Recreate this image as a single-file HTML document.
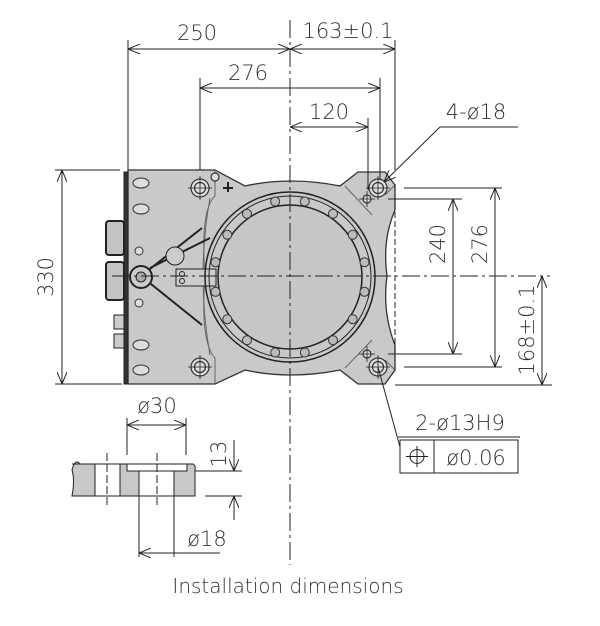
<!DOCTYPE html>
<html><head><meta charset="utf-8"><style>
html,body{margin:0;padding:0;background:#fff;}
svg{display:block;}
text{font-family:"DejaVu Sans","Liberation Sans",sans-serif;fill:#333;font-weight:300;}
</style></head><body>
<svg width="600" height="626" viewBox="0 0 600 626" xmlns="http://www.w3.org/2000/svg">
<defs>
<marker id="a" viewBox="0 0 12 10" refX="12" refY="5" markerWidth="12" markerHeight="10" orient="auto-start-reverse" markerUnits="userSpaceOnUse">
<path d="M0,0 L12,5 L0,10" fill="none" stroke="#222" stroke-width="1"/></marker>
</defs>
<g stroke="#222" stroke-width="1" fill="none">
<path d="M128,170 L215,170 L245,186 Q290,176 340,186 L358,172 L385,172 L395,185 L395,210 Q382,240 387,276 Q382,312 395,345 L395,370 L385,384 L358,384 L340,370 Q290,380 245,370 L215,384 L128,384 Z" fill="#c9c9c9" stroke="#333" stroke-width="1.3"/>
<path d="M215,170 L215,196 Q200,210 205,276 Q200,342 215,358 L215,384" stroke="#666"/>
<path d="M210,198 Q196,276 210,355" stroke="#666"/>
<path d="M385,195 L395,185 M385,360 L395,370" stroke="#666"/>
<path d="M345,186 L372,215 M345,368 L372,340" stroke="#666"/>
<rect x="124" y="172" width="4" height="212" fill="#333"/>
<rect x="106" y="221" width="18" height="34" rx="3" fill="#c4c4c4" stroke="#222" stroke-width="2"/>
<rect x="106" y="262" width="18" height="38" rx="3" fill="#c4c4c4" stroke="#222" stroke-width="2"/>
<rect x="114" y="315" width="10" height="14" fill="#ccc"/>
<rect x="114" y="334" width="10" height="14" fill="#ccc"/>
<g fill="#ddd" stroke="#333">
<ellipse cx="141" cy="183" rx="8" ry="5"/><ellipse cx="141" cy="209" rx="8" ry="5"/>
<circle cx="139" cy="251" r="4"/><circle cx="139" cy="303" r="4"/>
<ellipse cx="141" cy="345" rx="8" ry="5"/><ellipse cx="141" cy="370" rx="8" ry="5"/>
</g>
<path d="M141,276 L202,228 M141,276 L202,325 M150,268 L210,238" stroke="#222" stroke-width="2"/>
<circle cx="141" cy="277" r="11" fill="#ccc" stroke="#222" stroke-width="2"/>
<circle cx="141" cy="277" r="5" fill="#aaa"/>
<circle cx="175" cy="256" r="9" fill="#ccc"/>
<rect x="176" y="269" width="40" height="17" fill="#ccc"/>
<circle cx="182" cy="274" r="2.5"/><circle cx="182" cy="281" r="2.5"/>
<circle cx="290" cy="277" r="85" stroke-width="1.5"/>
<circle cx="290" cy="277" r="81"/>
<circle cx="290" cy="277" r="72" fill="#c6c6c6" stroke-width="1.5"/>
<g fill="#bbb" stroke="#333">
<circle cx="304.8" cy="201.5" r="4.5"/><circle cx="333.0" cy="213.8" r="4.5"/><circle cx="352.7" cy="234.8" r="4.5"/><circle cx="364.5" cy="262.2" r="4.5"/>
<circle cx="364.5" cy="291.8" r="4.5"/><circle cx="352.7" cy="319.2" r="4.5"/><circle cx="333.0" cy="340.2" r="4.5"/><circle cx="304.8" cy="352.5" r="4.5"/>
<circle cx="275.2" cy="352.5" r="4.5"/><circle cx="247.0" cy="340.2" r="4.5"/><circle cx="227.3" cy="319.2" r="4.5"/><circle cx="215.5" cy="291.8" r="4.5"/>
<circle cx="215.5" cy="262.2" r="4.5"/><circle cx="227.3" cy="234.8" r="4.5"/><circle cx="247.0" cy="213.8" r="4.5"/><circle cx="275.2" cy="201.5" r="4.5"/>
</g>
<g fill="#ddd" stroke="#333" stroke-width="1.2">
<circle cx="200" cy="188" r="9"/><circle cx="200" cy="188" r="5.5"/>
<circle cx="200" cy="367" r="9"/><circle cx="200" cy="367" r="5.5"/>
<circle cx="378" cy="188" r="9"/><circle cx="378" cy="188" r="5.5"/>
<circle cx="378" cy="367" r="9"/><circle cx="378" cy="367" r="5.5"/>
<circle cx="367" cy="199" r="4"/><circle cx="367" cy="354" r="4"/>
<circle cx="215" cy="177" r="4"/>
</g>
<path d="M223,188 h10 M228,182 v10" stroke-width="2"/>
<path d="M290,20 V565" stroke-dasharray="18,4,3,4"/>
<path d="M112,276 H550" stroke-dasharray="18,4,3,4"/>
<path d="M395,185 V370" stroke-dasharray="6,3"/>
<path d="M188,188 h24 M200,176 v24 M188,367 h24 M200,355 v24 M366,188 h24 M378,176 v24 M366,367 h24 M378,355 v24 M359,199 h16 M367,191 v16 M359,354 h16 M367,346 v16" stroke-width="0.8"/>
<path d="M128,40 V170 M395,40 V170 M200,78 V170 M380,78 V180 M368,118 V190"/>
<path d="M128,49 H290" marker-start="url(#a)" marker-end="url(#a)"/>
<path d="M290,49 H395" marker-start="url(#a)" marker-end="url(#a)"/>
<path d="M200,88 H380" marker-start="url(#a)" marker-end="url(#a)"/>
<path d="M290,127 H368" marker-start="url(#a)" marker-end="url(#a)"/>
<path d="M518,127 H440 L384,182" marker-end="url(#a)"/>
<path d="M55,170 H120 M55,384 H122"/>
<path d="M62,170 V384" marker-start="url(#a)" marker-end="url(#a)"/>
<path d="M388,199 H462 M388,354 H462 M404,188 H502 M404,367 H502 M395,385 H552"/>
<path d="M453,199 V354" marker-start="url(#a)" marker-end="url(#a)"/>
<path d="M495,188 V367" marker-start="url(#a)" marker-end="url(#a)"/>
<path d="M542,276 V385" marker-start="url(#a)" marker-end="url(#a)"/>
<path d="M378,367 L400,447 M398,437 H520"/>
<rect x="400" y="440" width="118" height="33"/>
<path d="M434,440 V473"/>
<circle cx="417" cy="456.5" r="7"/><path d="M406,456.5 h22 M417,446 v21"/>
<path d="M95,464 L80,464 Q75,458 72,470 Q75,480 72,496 L95,496 Z" fill="#c8c8c8"/>
<path d="M120,464 H127 V471 H139 V496 H120 Z" fill="#c8c8c8"/>
<path d="M174,471 H187 V464 H193 Q196,466 195,470 V496 H174 Z" fill="#c8c8c8"/>
<path d="M72,464 H193 M72,496 H195 M127,464 V471 H187 V464 M95,464 V496 M120,464 V496 M139,471 V496 M174,471 V496"/>
<path d="M107,453 V506 M157,453 V506" stroke-dasharray="8,3"/>
<path d="M127,418 V455 M186,418 V455"/>
<path d="M127,425 H186" marker-start="url(#a)" marker-end="url(#a)"/>
<path d="M195,471 H242 M205,496 H242"/>
<path d="M234,440 V471" marker-end="url(#a)"/>
<path d="M234,520 V496" marker-end="url(#a)"/>
<path d="M139,496 V557 M174,496 V557"/>
<path d="M139,553 H174" marker-start="url(#a)"/>
<path d="M174,553 H220"/>
</g>
<g font-size="21">
<text x="197" y="40" text-anchor="middle">250</text>
<text x="348" y="38" text-anchor="middle">163±0.1</text>
<text x="248" y="80" text-anchor="middle">276</text>
<text x="329" y="119" text-anchor="middle">120</text>
<text x="476" y="119" text-anchor="middle">4-ø18</text>
<text transform="translate(53,277) rotate(-90)" text-anchor="middle">330</text>
<text transform="translate(445,244) rotate(-90)" text-anchor="middle">240</text>
<text transform="translate(487,244) rotate(-90)" text-anchor="middle">276</text>
<text transform="translate(534,330) rotate(-90)" text-anchor="middle">168±0.1</text>
<text x="460" y="430" text-anchor="middle">2-ø13H9</text>
<text x="476" y="465" text-anchor="middle">ø0.06</text>
<text x="157" y="413" text-anchor="middle">ø30</text>
<text transform="translate(226,454) rotate(-90)" text-anchor="middle">13</text>
<text x="207" y="546" text-anchor="middle">ø18</text>
<text x="288" y="593" text-anchor="middle" font-size="20">Installation dimensions</text>
</g>
</svg>
</body></html>
